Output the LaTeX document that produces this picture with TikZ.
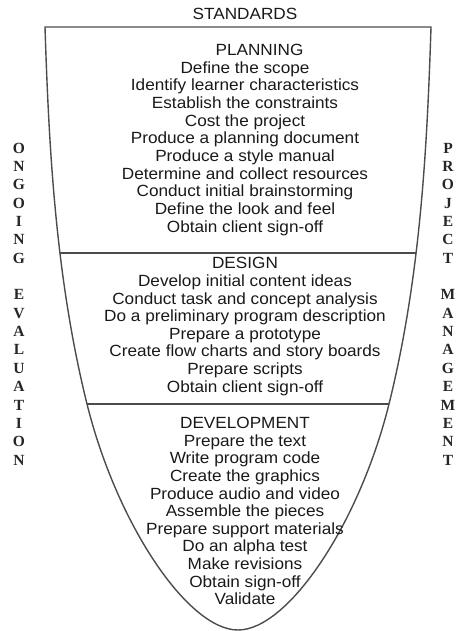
\documentclass[tikz,border=0pt]{standalone}
\usepackage{fontspec}
\setmainfont[FakeStretch=1.06]{Liberation Sans}
\newfontfamily\sidefont{Liberation Serif}
\newcommand\funnelpath{(238,630) .. controls (188,630) and (116.8,524) .. (87,404)
    .. controls (56,279) and (49,152) .. (45,27) -- (431,27)
    .. controls (427,152) and (420,279) .. (389,404)
    .. controls (359.2,524) and (288,630) .. (238,630) -- cycle}
\begin{document}
\begin{tikzpicture}[x=1pt,y=-1pt,
        outline/.style={draw=black!70,line width=1.4pt,line join=miter},
        stage/.style={anchor=base,inner sep=0pt,text=black!90,font=\fontsize{16.2}{17.65}\selectfont},
        side/.style={anchor=base,inner sep=0pt,text=black!85,font=\sidefont\bfseries\fontsize{15.5}{18}\selectfont}]
    \useasboundingbox (0,0) rectangle (461,631);
    \begin{scope}
        \clip \funnelpath;
        \draw[outline] (0,253) -- (461,253);
        \draw[outline] (0,404) -- (461,404);
    \end{scope}
    \draw[outline] \funnelpath;
    \node[stage] (standards) at (245,19.7) {STANDARDS};
    \node[stage] (planning) at (259.5,55.7) {PLANNING};
    \foreach \txt [count=\i] in {Define the scope,Identify learner characteristics,
            Establish the constraints,Cost the project,Produce a planning document,
            Produce a style manual,Determine and collect resources,
            Conduct initial brainstorming,Define the look and feel,Obtain client sign-off}
        \node[stage] (plan-\i) at (245,55.7+17.65*\i) {\txt};
    \node[stage] (design) at (245,268.7) {DESIGN};
    \foreach \txt [count=\i] in {Develop initial content ideas,
            Conduct task and concept analysis,Do a preliminary program description,
            Prepare a prototype,Create flow charts and story boards,Prepare scripts,
            Obtain client sign-off}
        \node[stage] (des-\i) at (245,268.7+17.65*\i) {\txt};
    \node[stage] (development) at (245,428.4) {DEVELOPMENT};
    \foreach \txt [count=\i] in {Prepare the text,Write program code,Create the graphics,
            Produce audio and video,Assemble the pieces,Prepare support materials,
            Do an alpha test,Make revisions,Obtain sign-off,Validate}
        \node[stage] (dev-\i) at (245,428.4+17.65*\i) {\txt};
    \foreach \ch [count=\i from 0] in {O,N,G,O,I,N,G}
        \node[side] (ong-\i) at (19,153.1+18.35*\i) {\ch};
    \foreach \ch [count=\i from 8] in {E,V,A,L,U,A,T,I,O,N}
        \node[side] (eva-\i) at (19,153.1+18.35*\i) {\ch};
    \foreach \ch [count=\i from 0] in {P,R,O,J,E,C,T}
        \node[side] (pro-\i) at (448,153.1+18.35*\i) {\ch};
    \foreach \ch [count=\i from 8] in {M,A,N,A,G,E,M,E,N,T}
        \node[side] (man-\i) at (448,153.1+18.35*\i) {\ch};
\end{tikzpicture}
\end{document}
